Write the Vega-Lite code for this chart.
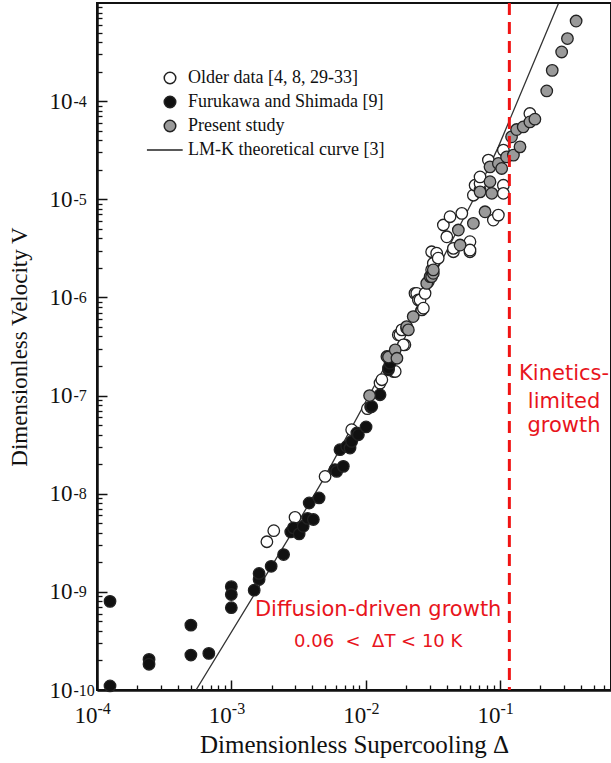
{
  "$schema": "https://vega.github.io/schema/vega-lite/v6.json",
  "width": 514,
  "height": 687,
  "autosize": {"type": "none"},
  "padding": {"left": 97, "top": 3, "right": 0, "bottom": 73},
  "background": "white",
  "config": {
    "view": {"stroke": "#111", "strokeWidth": 2},
    "axis": {"grid": false, "labelFlush": false, "labelOverlap": false, "labelFont": "Liberation Serif", "titleFont": "Liberation Serif", "labelColor": "#111", "titleColor": "#111", "titleFontWeight": "normal"}
  },
  "datasets": {
    "pts": [
      {"d": 1.84e-3, "v": 3.24e-9, "series": "Older data [4, 8, 29-33]"},
      {"d": 2.07e-3, "v": 4.2e-9, "series": "Older data [4, 8, 29-33]"},
      {"d": 2.98e-3, "v": 5.75e-9, "series": "Older data [4, 8, 29-33]"},
      {"d": 4.99e-3, "v": 1.5e-8, "series": "Older data [4, 8, 29-33]"},
      {"d": 7.87e-3, "v": 4.49e-8, "series": "Older data [4, 8, 29-33]"},
      {"d": 1.03e-2, "v": 7.35e-8, "series": "Older data [4, 8, 29-33]"},
      {"d": 1.28e-2, "v": 1.34e-7, "series": "Older data [4, 8, 29-33]"},
      {"d": 1.32e-2, "v": 1.45e-7, "series": "Older data [4, 8, 29-33]"},
      {"d": 1.61e-2, "v": 1.76e-7, "series": "Older data [4, 8, 29-33]"},
      {"d": 1.66e-2, "v": 1.76e-7, "series": "Older data [4, 8, 29-33]"},
      {"d": 1.75e-2, "v": 4.16e-7, "series": "Older data [4, 8, 29-33]"},
      {"d": 1.8e-2, "v": 4.16e-7, "series": "Older data [4, 8, 29-33]"},
      {"d": 1.86e-2, "v": 4.67e-7, "series": "Older data [4, 8, 29-33]"},
      {"d": 1.96e-2, "v": 3.29e-7, "series": "Older data [4, 8, 29-33]"},
      {"d": 1.91e-2, "v": 3.29e-7, "series": "Older data [4, 8, 29-33]"},
      {"d": 2.33e-2, "v": 1.1e-6, "series": "Older data [4, 8, 29-33]"},
      {"d": 2.4e-2, "v": 1.1e-6, "series": "Older data [4, 8, 29-33]"},
      {"d": 2.47e-2, "v": 9.44e-7, "series": "Older data [4, 8, 29-33]"},
      {"d": 2.54e-2, "v": 9.44e-7, "series": "Older data [4, 8, 29-33]"},
      {"d": 2.62e-2, "v": 7.46e-7, "series": "Older data [4, 8, 29-33]"},
      {"d": 2.69e-2, "v": 7.76e-7, "series": "Older data [4, 8, 29-33]"},
      {"d": 2.77e-2, "v": 1.1e-6, "series": "Older data [4, 8, 29-33]"},
      {"d": 2.93e-2, "v": 1.45e-6, "series": "Older data [4, 8, 29-33]"},
      {"d": 3.1e-2, "v": 1.91e-6, "series": "Older data [4, 8, 29-33]"},
      {"d": 3.19e-2, "v": 2.23e-6, "series": "Older data [4, 8, 29-33]"},
      {"d": 3.1e-2, "v": 2.92e-6, "series": "Older data [4, 8, 29-33]"},
      {"d": 3.38e-2, "v": 2.82e-6, "series": "Older data [4, 8, 29-33]"},
      {"d": 3.47e-2, "v": 2.51e-6, "series": "Older data [4, 8, 29-33]"},
      {"d": 3.79e-2, "v": 5.47e-6, "series": "Older data [4, 8, 29-33]"},
      {"d": 4.02e-2, "v": 4.15e-6, "series": "Older data [4, 8, 29-33]"},
      {"d": 4.25e-2, "v": 6.64e-6, "series": "Older data [4, 8, 29-33]"},
      {"d": 4.5e-2, "v": 2.92e-6, "series": "Older data [4, 8, 29-33]"},
      {"d": 4.5e-2, "v": 3.16e-6, "series": "Older data [4, 8, 29-33]"},
      {"d": 5.2e-2, "v": 7.19e-6, "series": "Older data [4, 8, 29-33]"},
      {"d": 5.98e-2, "v": 2.92e-6, "series": "Older data [4, 8, 29-33]"},
      {"d": 5.98e-2, "v": 3.7e-6, "series": "Older data [4, 8, 29-33]"},
      {"d": 5.98e-2, "v": 3.04e-6, "series": "Older data [4, 8, 29-33]"},
      {"d": 6.34e-2, "v": 1.1e-5, "series": "Older data [4, 8, 29-33]"},
      {"d": 6.53e-2, "v": 1.39e-5, "series": "Older data [4, 8, 29-33]"},
      {"d": 7.11e-2, "v": 1.24e-5, "series": "Older data [4, 8, 29-33]"},
      {"d": 7.11e-2, "v": 1.45e-5, "series": "Older data [4, 8, 29-33]"},
      {"d": 7.11e-2, "v": 1.69e-5, "series": "Older data [4, 8, 29-33]"},
      {"d": 8.2e-2, "v": 2.51e-5, "series": "Older data [4, 8, 29-33]"},
      {"d": 8.93e-2, "v": 6.14e-6, "series": "Older data [4, 8, 29-33]"},
      {"d": 9.73e-2, "v": 6.9e-6, "series": "Older data [4, 8, 29-33]"},
      {"d": 0.106, "v": 1.39e-5, "series": "Older data [4, 8, 29-33]"},
      {"d": 0.106, "v": 1.15e-5, "series": "Older data [4, 8, 29-33]"},
      {"d": 0.106, "v": 3.17e-5, "series": "Older data [4, 8, 29-33]"},
      {"d": 0.167, "v": 7.48e-5, "series": "Older data [4, 8, 29-33]"},
      {"d": 1.25e-4, "v": 8.0e-10, "series": "Furukawa and Shimada [9]"},
      {"d": 1.25e-4, "v": 1.1e-10, "series": "Furukawa and Shimada [9]"},
      {"d": 2.44e-4, "v": 2.05e-10, "series": "Furukawa and Shimada [9]"},
      {"d": 2.44e-4, "v": 1.83e-10, "series": "Furukawa and Shimada [9]"},
      {"d": 5.0e-4, "v": 4.58e-10, "series": "Furukawa and Shimada [9]"},
      {"d": 5.0e-4, "v": 2.27e-10, "series": "Furukawa and Shimada [9]"},
      {"d": 6.8e-4, "v": 2.36e-10, "series": "Furukawa and Shimada [9]"},
      {"d": 1.0e-3, "v": 1.13e-9, "series": "Furukawa and Shimada [9]"},
      {"d": 1.0e-3, "v": 9.4e-10, "series": "Furukawa and Shimada [9]"},
      {"d": 1.0e-3, "v": 6.9e-10, "series": "Furukawa and Shimada [9]"},
      {"d": 1.48e-3, "v": 1.04e-9, "series": "Furukawa and Shimada [9]"},
      {"d": 1.61e-3, "v": 1.34e-9, "series": "Furukawa and Shimada [9]"},
      {"d": 1.61e-3, "v": 1.54e-9, "series": "Furukawa and Shimada [9]"},
      {"d": 1.98e-3, "v": 1.82e-9, "series": "Furukawa and Shimada [9]"},
      {"d": 2.45e-3, "v": 2.4e-9, "series": "Furukawa and Shimada [9]"},
      {"d": 2.77e-3, "v": 4.08e-9, "series": "Furukawa and Shimada [9]"},
      {"d": 2.9e-3, "v": 4.49e-9, "series": "Furukawa and Shimada [9]"},
      {"d": 3.2e-3, "v": 3.9e-9, "series": "Furukawa and Shimada [9]"},
      {"d": 3.43e-3, "v": 4.66e-9, "series": "Furukawa and Shimada [9]"},
      {"d": 3.7e-3, "v": 5.6e-9, "series": "Furukawa and Shimada [9]"},
      {"d": 3.8e-3, "v": 8.05e-9, "series": "Furukawa and Shimada [9]"},
      {"d": 4.08e-3, "v": 5.46e-9, "series": "Furukawa and Shimada [9]"},
      {"d": 4.5e-3, "v": 9.06e-9, "series": "Furukawa and Shimada [9]"},
      {"d": 5.91e-3, "v": 1.76e-8, "series": "Furukawa and Shimada [9]"},
      {"d": 6.09e-3, "v": 1.69e-8, "series": "Furukawa and Shimada [9]"},
      {"d": 6.82e-3, "v": 1.9e-8, "series": "Furukawa and Shimada [9]"},
      {"d": 6.44e-3, "v": 2.81e-8, "series": "Furukawa and Shimada [9]"},
      {"d": 7.23e-3, "v": 3.03e-8, "series": "Furukawa and Shimada [9]"},
      {"d": 7.65e-3, "v": 2.92e-8, "series": "Furukawa and Shimada [9]"},
      {"d": 7.87e-3, "v": 3.41e-8, "series": "Furukawa and Shimada [9]"},
      {"d": 8.6e-3, "v": 4.16e-8, "series": "Furukawa and Shimada [9]"},
      {"d": 8.83e-3, "v": 3.99e-8, "series": "Furukawa and Shimada [9]"},
      {"d": 1.007e-2, "v": 4.79e-8, "series": "Furukawa and Shimada [9]"},
      {"d": 1.09e-2, "v": 7.64e-8, "series": "Furukawa and Shimada [9]"},
      {"d": 1.11e-2, "v": 7.74e-8, "series": "Furukawa and Shimada [9]"},
      {"d": 1.28e-2, "v": 1.02e-7, "series": "Furukawa and Shimada [9]"},
      {"d": 1.48e-2, "v": 1.83e-7, "series": "Furukawa and Shimada [9]"},
      {"d": 1.48e-2, "v": 1.91e-7, "series": "Furukawa and Shimada [9]"},
      {"d": 1.52e-2, "v": 2.14e-7, "series": "Furukawa and Shimada [9]"},
      {"d": 1.07e-2, "v": 1.0e-7, "series": "Present study"},
      {"d": 1.44e-2, "v": 2.5e-7, "series": "Present study"},
      {"d": 1.48e-2, "v": 2.47e-7, "series": "Present study"},
      {"d": 1.66e-2, "v": 2.92e-7, "series": "Present study"},
      {"d": 1.71e-2, "v": 2.4e-7, "series": "Present study"},
      {"d": 2.02e-2, "v": 4.86e-7, "series": "Present study"},
      {"d": 2.02e-2, "v": 5.05e-7, "series": "Present study"},
      {"d": 2.08e-2, "v": 4.67e-7, "series": "Present study"},
      {"d": 2.26e-2, "v": 6.38e-7, "series": "Present study"},
      {"d": 2.85e-2, "v": 1.39e-6, "series": "Present study"},
      {"d": 3.02e-2, "v": 1.63e-6, "series": "Present study"},
      {"d": 3.1e-2, "v": 1.63e-6, "series": "Present study"},
      {"d": 3.19e-2, "v": 1.76e-6, "series": "Present study"},
      {"d": 3.19e-2, "v": 1.91e-6, "series": "Present study"},
      {"d": 4.9e-2, "v": 4.86e-6, "series": "Present study"},
      {"d": 5.05e-2, "v": 3.42e-6, "series": "Present study"},
      {"d": 6.34e-2, "v": 5.69e-6, "series": "Present study"},
      {"d": 7.11e-2, "v": 1.19e-5, "series": "Present study"},
      {"d": 7.74e-2, "v": 7.46e-6, "series": "Present study"},
      {"d": 8.43e-2, "v": 1.51e-5, "series": "Present study"},
      {"d": 8.43e-2, "v": 2.14e-5, "series": "Present study"},
      {"d": 8.69e-2, "v": 1.15e-5, "series": "Present study"},
      {"d": 9.73e-2, "v": 2.32e-5, "series": "Present study"},
      {"d": 0.103, "v": 2.06e-5, "series": "Present study"},
      {"d": 0.112, "v": 2.7e-5, "series": "Present study"},
      {"d": 0.122, "v": 4.33e-5, "series": "Present study"},
      {"d": 0.126, "v": 2.82e-5, "series": "Present study"},
      {"d": 0.133, "v": 5.14e-5, "series": "Present study"},
      {"d": 0.141, "v": 3.42e-5, "series": "Present study"},
      {"d": 0.149, "v": 5.46e-5, "series": "Present study"},
      {"d": 0.167, "v": 6.14e-5, "series": "Present study"},
      {"d": 0.182, "v": 6.55e-5, "series": "Present study"},
      {"d": 0.223, "v": 1.27e-4, "series": "Present study"},
      {"d": 0.245, "v": 2.06e-4, "series": "Present study"},
      {"d": 0.288, "v": 3.17e-4, "series": "Present study"},
      {"d": 0.318, "v": 4.34e-4, "series": "Present study"},
      {"d": 0.369, "v": 6.55e-4, "series": "Present study"}
    ],
    "curve": [
      {"d": 5.46e-4, "v": 1.0e-10},
      {"d": 2.73e-3, "v": 3.69e-9},
      {"d": 4.99e-3, "v": 1.5e-8},
      {"d": 1.44e-2, "v": 2.16e-7},
      {"d": 1.8e-2, "v": 3.7e-7},
      {"d": 3.58e-2, "v": 2.21e-6},
      {"d": 6.71e-2, "v": 1.15e-5},
      {"d": 9.73e-2, "v": 3.42e-5},
      {"d": 0.272, "v": 9.84e-4}
    ],
    "notes": [
      {"d": 0.30, "v": 1.45e-7, "t": "Kinetics-", "g": "k"},
      {"d": 0.30, "v": 7.52e-8, "t": "limited", "g": "k"},
      {"d": 0.30, "v": 4.22e-8, "t": "growth", "g": "k"},
      {"d": 1.24e-2, "v": 5.62e-10, "t": "Diffusion-driven growth", "g": "k"},
      {"d": 1.24e-2, "v": 2.72e-10, "t": "0.06\u00a0\u00a0<\u00a0\u00a0ΔT < 10 K", "g": "s"}
    ],
    "vline": [{"d": 0.1175}]
  },
  "resolve": {"axis": {"x": "independent", "y": "independent"}},
  "layer": [
    {
      "data": {"name": "curve"},
      "mark": {"type": "line", "color": "#333", "strokeWidth": 1.3, "clip": true},
      "encoding": {
        "x": {"field": "d", "type": "quantitative", "scale": {"type": "log", "domain": [1e-4, 0.671], "nice": false},
          "axis": {"orient": "bottom", "values": [2e-4,3e-4,4e-4,5e-4,6e-4,7e-4,8e-4,9e-4,0.002,0.003,0.004,0.005,0.006,0.007,0.008,0.009,0.02,0.03,0.04,0.05,0.06,0.07,0.08,0.09,0.2,0.3,0.4,0.5,0.6],
            "labels": false, "domain": false, "ticks": true, "tickSize": -5, "tickWidth": 1.3, "tickColor": "#111", "title": null}},
        "y": {"field": "v", "type": "quantitative", "scale": {"type": "log", "domain": [1e-10, 1e-3], "nice": false},
          "axis": {"orient": "left", "values": [2e-10,3e-10,4e-10,5e-10,6e-10,7e-10,8e-10,9e-10,2e-9,3e-9,4e-9,5e-9,6e-9,7e-9,8e-9,9e-9,2e-8,3e-8,4e-8,5e-8,6e-8,7e-8,8e-8,9e-8,2e-7,3e-7,4e-7,5e-7,6e-7,7e-7,8e-7,9e-7,2e-6,3e-6,4e-6,5e-6,6e-6,7e-6,8e-6,9e-6,2e-5,3e-5,4e-5,5e-5,6e-5,7e-5,8e-5,9e-5,2e-4,3e-4,4e-4,5e-4,6e-4,7e-4,8e-4,9e-4],
            "labels": false, "domain": false, "ticks": true, "tickSize": -5, "tickWidth": 1.3, "tickColor": "#111", "title": null}}
      }
    },
    {
      "data": {"name": "pts"},
      "mark": {"type": "point", "filled": true, "size": 133, "stroke": "#222", "strokeWidth": 1.3, "opacity": 1},
      "encoding": {
        "x": {"field": "d", "type": "quantitative", "scale": {"type": "log", "domain": [1e-4, 0.671], "nice": false},
          "axis": {"orient": "bottom", "values": [1e-4, 1e-3, 1e-2, 1e-1], "labelExpr": "'10'", "labelFontSize": 23, "labelAlign": "right", "labelDx": 3, "labelBaseline": "alphabetic", "labelPadding": 42,
            "tickSize": -10, "tickWidth": 1.5, "tickColor": "#111", "domain": true, "domainColor": "#111", "domainWidth": 2.5,
            "title": "Dimensionless Supercooling Δ", "titleFontSize": 25, "titleX": 257, "titleY": 62, "titleAlign": "center", "titleBaseline": "alphabetic"}},
        "y": {"field": "v", "type": "quantitative", "scale": {"type": "log", "domain": [1e-10, 1e-3], "nice": false},
          "axis": {"orient": "left", "values": [1e-10, 1e-9, 1e-8, 1e-7, 1e-6, 1e-5, 1e-4], "labelExpr": "'10'", "labelFontSize": 23, "labelAlign": "right", "labelBaseline": "middle", "labelDy": -1, "labelPadding": 35,
            "tickSize": -10, "tickWidth": 1.5, "tickColor": "#111", "domain": true, "domainColor": "#111", "domainWidth": 2.5,
            "title": "Dimensionless Velocity V", "titleFontSize": 23, "titleX": -71, "titleY": 343.5, "titleAngle": -90, "titleAlign": "center", "titleBaseline": "alphabetic"}},
        "fill": {"field": "series", "type": "nominal",
          "scale": {"domain": ["Older data [4, 8, 29-33]", "Furukawa and Shimada [9]", "Present study", "LM-K theoretical curve [3]"], "range": ["#ffffff", "#111111", "#9a9a9a", "transparent"]},
          "legend": {"orient": "none", "legendX": 64, "legendY": 66, "title": null, "labelFont": "Liberation Serif", "labelFontSize": 18, "labelColor": "#111", "labelLimit": 400, "labelOffset": 9, "rowPadding": 6, "padding": 0, "symbolSize": 133,
            "encode": {"symbols": {"update": {"stroke": {"value": "#222"}, "strokeWidth": {"value": 1.3}}}}}},
        "shape": {"field": "series", "type": "nominal",
          "scale": {"domain": ["Older data [4, 8, 29-33]", "Furukawa and Shimada [9]", "Present study", "LM-K theoretical curve [3]"], "range": ["circle", "circle", "circle", "M-4,0L2.2,0"]},
          "legend": {"orient": "none", "legendX": 64, "legendY": 66, "title": null, "labelFont": "Liberation Serif", "labelFontSize": 18, "labelColor": "#111", "labelLimit": 400, "labelOffset": 9, "rowPadding": 6, "padding": 0, "symbolSize": 133,
            "encode": {"symbols": {"update": {"stroke": {"value": "#222"}, "strokeWidth": {"value": 1.3}}}}}}
      }
    },
    {
      "data": {"name": "vline"},
      "mark": {"type": "rule", "color": "#f01414", "strokeWidth": 3, "strokeDash": [12, 7]},
      "encoding": {
        "x": {"field": "d", "type": "quantitative", "scale": {"type": "log", "domain": [1e-4, 0.671], "nice": false}, "axis": null}
      }
    },
    {
      "data": {"name": "notes"},
      "transform": [{"filter": "datum.g == 'k'"}],
      "mark": {"type": "text", "font": "DejaVu Sans", "fontSize": 21, "color": "#e8141c", "align": "center", "baseline": "alphabetic"},
      "encoding": {
        "x": {"field": "d", "type": "quantitative", "scale": {"type": "log", "domain": [1e-4, 0.671], "nice": false},
          "axis": {"orient": "bottom", "values": [1e-4, 1e-3, 1e-2, 1e-1], "labelExpr": "'' + round(log(datum.value)/LN10)", "ticks": false, "domain": false, "labelFontSize": 16, "labelAlign": "left", "labelDx": 3, "labelBaseline": "alphabetic", "labelPadding": 23, "title": null}},
        "y": {"field": "v", "type": "quantitative", "scale": {"type": "log", "domain": [1e-10, 1e-3], "nice": false},
          "axis": {"orient": "left", "values": [1e-10, 1e-9, 1e-8, 1e-7, 1e-6, 1e-5, 1e-4], "labelExpr": "'' + round(log(datum.value)/LN10)", "ticks": false, "domain": false, "labelFontSize": 16, "labelAlign": "left", "labelPadding": 24, "labelDy": -6, "labelBaseline": "middle", "title": null}},
        "text": {"field": "t"}
      }
    },
    {
      "data": {"name": "notes"},
      "transform": [{"filter": "datum.g == 's'"}],
      "mark": {"type": "text", "font": "DejaVu Sans", "fontSize": 18, "color": "#e8141c", "align": "center", "baseline": "alphabetic"},
      "encoding": {
        "x": {"field": "d", "type": "quantitative", "scale": {"type": "log", "domain": [1e-4, 0.671], "nice": false}, "axis": null},
        "y": {"field": "v", "type": "quantitative", "scale": {"type": "log", "domain": [1e-10, 1e-3], "nice": false}, "axis": null},
        "text": {"field": "t"}
      }
    }
  ]
}
